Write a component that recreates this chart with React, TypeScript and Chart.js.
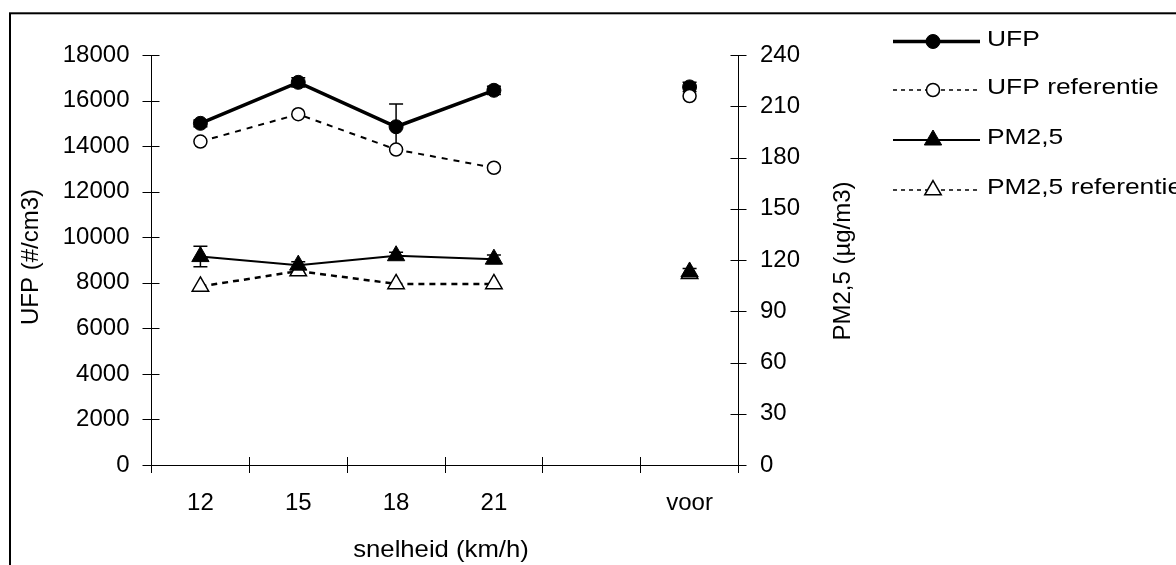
import React, { useEffect, useRef } from 'react';
import { Chart, registerables } from 'chart.js';
import { drawPoint } from 'chart.js/helpers';

Chart.register(...registerables);

// Speed categories (km/h) plus the "voor" measurement; the empty slot is a spacer.
const categories = ['12', '15', '18', '21', '', 'voor'];

// UFP concentrations (#/cm3), left axis
const ufp = [15000, 16800, 14850, 16450, null, 16600];
const ufpErr = [150, 200, 1000, 180, null, 200];
const ufpRef = [14200, 15400, 13850, 13050, null, 16200];

// PM2,5 concentrations (µg/m3), right axis
const pm25 = [122, 117, 122.5, 120.5, null, 113];
const pm25Err = [6, 2, 2, 2.5, null, 2];
const pm25Ref = [104.5, 113.5, 106, 106, null, 112];

// Axis ranges and tick steps
const ufpAxisMax = 18000;
const ufpAxisStep = 2000;
const pmAxisMax = 240;
const pmAxisStep = 30;

const FONT = "'Liberation Sans', Arial, sans-serif";

function drawLabel(
  ctx: CanvasRenderingContext2D,
  text: string,
  x: number,
  y: number,
  size: number,
  align: CanvasTextAlign,
  scaleX = 1,
  rotate = 0
) {
  ctx.save();
  ctx.translate(x, y);
  if (rotate) ctx.rotate(rotate);
  ctx.scale(scaleX, 1);
  ctx.font = `${size}px ${FONT}`;
  ctx.fillStyle = '#000';
  ctx.textAlign = align;
  ctx.textBaseline = 'middle';
  ctx.fillText(text, 0, 0);
  ctx.restore();
}

// Vertical error bars with caps, drawn underneath lines and markers
const errorBarPlugin = {
  id: 'errorBars',
  beforeDatasetsDraw(chart: any) {
    const ctx = chart.ctx as CanvasRenderingContext2D;
    chart.data.datasets.forEach((ds: any, i: number) => {
      const errs = ds.errorBars as (number | null)[] | undefined;
      if (!errs) return;
      const meta = chart.getDatasetMeta(i);
      const yScale = chart.scales[meta.yAxisID];
      meta.data.forEach((pt: any, j: number) => {
        const v = ds.data[j];
        const e = errs[j];
        if (v == null || e == null) return;
        const x = pt.x;
        const yTop = yScale.getPixelForValue(v + e);
        const yBot = yScale.getPixelForValue(v - e);
        ctx.save();
        ctx.strokeStyle = '#000';
        ctx.lineWidth = 1.5;
        ctx.beginPath();
        ctx.moveTo(x, yTop);
        ctx.lineTo(x, yBot);
        ctx.moveTo(x - 7, yTop);
        ctx.lineTo(x + 7, yTop);
        ctx.moveTo(x - 7, yBot);
        ctx.lineTo(x + 7, yBot);
        ctx.stroke();
        ctx.restore();
      });
    });
  },
};

// Cross tick marks, axis titles, legend and outer frame
const decorPlugin = {
  id: 'decor',
  afterDraw(chart: any) {
    const ctx = chart.ctx as CanvasRenderingContext2D;
    const { x, y, y1 } = chart.scales;
    const area = chart.chartArea;

    ctx.save();
    ctx.strokeStyle = '#000';
    ctx.lineWidth = 1;
    ctx.beginPath();
    y.ticks.forEach((t: any) => {
      const py = Math.round(y.getPixelForValue(t.value)) + 0.5;
      ctx.moveTo(area.left - 9, py);
      ctx.lineTo(area.left + 8, py);
    });
    y1.ticks.forEach((t: any) => {
      const py = Math.round(y1.getPixelForValue(t.value)) + 0.5;
      ctx.moveTo(area.right - 8, py);
      ctx.lineTo(area.right + 8, py);
    });
    for (let i = 0; i <= categories.length; i++) {
      const px = Math.round(x.getPixelForValue(i - 0.5) - 0.5) + 0.5;
      ctx.moveTo(px, area.bottom - 8);
      ctx.lineTo(px, area.bottom + 8);
    }
    ctx.stroke();
    ctx.restore();

    // axis titles
    drawLabel(ctx, 'UFP (#/cm3)', 31, (area.top + area.bottom) / 2 - 3, 24, 'center', 1, -Math.PI / 2);
    drawLabel(ctx, 'PM2,5 (µg/m3)', 843, (area.top + area.bottom) / 2 + 1, 24, 'center', 1, -Math.PI / 2);
    drawLabel(ctx, 'snelheid (km/h)', (area.left + area.right) / 2 - 4, 550, 24, 'center', 1.07);

    // legend
    const rows = [41.5, 90, 140, 190];
    const lineX0 = 893;
    const lineX1 = 980;
    const markX = 933;
    chart.data.datasets.forEach((ds: any, i: number) => {
      const ly = rows[i];
      ctx.save();
      ctx.strokeStyle = '#000';
      ctx.lineWidth = ds.borderDash ? 1.5 : ds.borderWidth;
      ctx.setLineDash(ds.borderDash ? [4, 4] : []);
      ctx.beginPath();
      ctx.moveTo(lineX0, ly);
      ctx.lineTo(lineX1, ly);
      ctx.stroke();
      ctx.restore();
      ctx.save();
      ctx.fillStyle = ds.pointBackgroundColor;
      ctx.strokeStyle = '#000';
      ctx.lineWidth = ds.pointBorderWidth;
      drawPoint(ctx, { pointStyle: ds.pointStyle, radius: ds.pointRadius, borderWidth: ds.pointBorderWidth, rotation: 0 } as any, markX, ly);
      ctx.restore();
      drawLabel(ctx, ds.label, 987, ly - 2, 22, 'left', 1.2);
    });

    // outer frame
    ctx.save();
    ctx.strokeStyle = '#000';
    ctx.lineWidth = 2;
    ctx.strokeRect(10, 13.3, 1400, 800);
    ctx.restore();
  },
};

export default function App() {
  const canvasRef = useRef<HTMLCanvasElement | null>(null);

  useEffect(() => {
    if (!canvasRef.current) return;
    const tickFont = { family: FONT, size: 24 };
    const chart = new Chart(canvasRef.current, {
      type: 'line',
      data: {
        labels: categories,
        datasets: [
          {
            label: 'UFP',
            data: ufp,
            errorBars: ufpErr,
            yAxisID: 'y',
            borderColor: '#000',
            borderWidth: 3.5,
            pointStyle: 'circle',
            pointRadius: 7,
            pointBackgroundColor: '#000',
            pointBorderColor: '#000',
            pointBorderWidth: 1,
            order: 1,
          },
          {
            label: 'UFP referentie',
            data: ufpRef,
            yAxisID: 'y',
            borderColor: '#000',
            borderWidth: 2,
            borderDash: [6, 6],
            pointStyle: 'circle',
            pointRadius: 6.5,
            pointBackgroundColor: '#fff',
            pointBorderColor: '#000',
            pointBorderWidth: 1.5,
            order: 0,
          },
          {
            label: 'PM2,5',
            data: pm25,
            errorBars: pm25Err,
            yAxisID: 'y1',
            borderColor: '#000',
            borderWidth: 2,
            pointStyle: 'triangle',
            pointRadius: 10,
            pointBackgroundColor: '#000',
            pointBorderColor: '#000',
            pointBorderWidth: 1,
            order: 2,
          },
          {
            label: 'PM2,5 referentie',
            data: pm25Ref,
            yAxisID: 'y1',
            borderColor: '#000',
            borderWidth: 2.5,
            borderDash: [6, 5],
            pointStyle: 'triangle',
            pointRadius: 9.5,
            pointBackgroundColor: '#fff',
            pointBorderColor: '#000',
            pointBorderWidth: 1.5,
            order: 3,
          },
        ] as any,
      },
      options: {
        responsive: false,
        animation: false,
        spanGaps: false,
        layout: { padding: { top: 55, left: 0, right: 0, bottom: 0 } },
        plugins: {
          legend: { display: false },
          tooltip: { enabled: false },
        },
        elements: { line: { tension: 0 } },
        scales: {
          x: {
            type: 'category',
            offset: true,
            grid: { display: false, drawTicks: false },
            border: { display: true, color: '#000', width: 1 },
            ticks: { font: tickFont, color: '#000', padding: 24, maxRotation: 0, autoSkip: false },
            afterFit: (s: any) => {
              s.height = 100;
            },
          },
          y: {
            position: 'left',
            min: 0,
            max: ufpAxisMax,
            grid: { display: false, drawTicks: false },
            border: { display: true, color: '#000', width: 1 },
            ticks: {
              stepSize: ufpAxisStep,
              font: tickFont,
              color: '#000',
              padding: 22,
              callback: (v: any) => String(v),
            },
            afterFit: (s: any) => {
              s.width = 151.5;
            },
          },
          y1: {
            position: 'right',
            min: 0,
            max: pmAxisMax,
            grid: { display: false, drawTicks: false },
            border: { display: true, color: '#000', width: 1 },
            ticks: {
              stepSize: pmAxisStep,
              font: tickFont,
              color: '#000',
              padding: 21.5,
              callback: (v: any) => String(v),
            },
            afterFit: (s: any) => {
              s.width = 437.5;
            },
          },
        },
      } as any,
      plugins: [errorBarPlugin, decorPlugin],
    });
    return () => chart.destroy();
  }, []);

  return (
    <div style={{ position: 'absolute', left: 0, top: 0, width: 1176, height: 565, background: '#fff' }}>
      <canvas ref={canvasRef} width={1176} height={565} style={{ display: 'block' }} />
    </div>
  );
}
